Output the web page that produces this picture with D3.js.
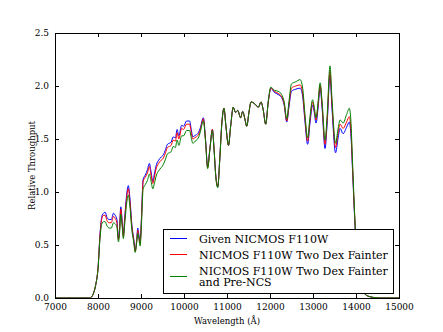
<!DOCTYPE html>
<html>
<head>
<meta charset="utf-8">
<script src="https://cdn.jsdelivr.net/npm/d3@7"></script>
<style>
  body { margin: 0; background: #fff; }
  svg { display: block; }
  text { font-family: "DejaVu Serif", serif; fill: #000; }
</style>
</head>
<body>
<svg id="chart"></svg>
<script>
// wavelength grid (Angstrom)
const wavelength = [7000, 7500, 7800, 7850, 7900, 7950, 8000, 8050, 8090, 8130,
  8165, 8210, 8260, 8310, 8360, 8400, 8440, 8475, 8500, 8530,
  8560, 8590, 8620, 8660, 8705, 8740, 8790, 8830, 8865, 8900,
  8925, 8950, 8980, 9010, 9050, 9100, 9150, 9195, 9230, 9275,
  9310, 9360, 9410, 9470, 9520, 9570, 9615, 9660, 9700, 9750,
  9800, 9840, 9880, 9945, 9990, 10060, 10130, 10165, 10205, 10245,
  10285, 10335, 10375, 10450, 10500, 10550, 10600, 10660, 10700, 10740,
  10785, 10830, 10880, 10930, 10975, 11035, 11085, 11145, 11200, 11250,
  11315, 11365, 11410, 11460, 11510, 11560, 11650, 11730, 11790, 11840,
  11900, 11960, 12020, 12100, 12190, 12270, 12330, 12390, 12440, 12500,
  12600, 12700, 12760, 12810, 12875, 12930, 12990, 13030, 13070, 13120,
  13165, 13210, 13280, 13330, 13395, 13440, 13525, 13580, 13630, 13700,
  13780, 13845, 13880, 13920, 13970, 14010, 14060, 14120, 14200, 14300,
  14450, 14550, 15000];

const givenF110W = [0, 0, 0, 0.01, 0.05, 0.13, 0.28, 0.62, 0.77, 0.80,
  0.81, 0.76, 0.74, 0.74, 0.80, 0.78, 0.74, 0.56, 0.65, 0.86,
  0.74, 0.60, 0.75, 0.95, 1.06, 0.95, 0.68, 0.56, 0.45, 0.55,
  0.66, 0.60, 0.52, 0.75, 1.12, 1.16, 1.21, 1.27, 1.20, 1.10,
  1.17, 1.26, 1.30, 1.33, 1.35, 1.40, 1.45, 1.46, 1.47, 1.52,
  1.51, 1.59, 1.53, 1.63, 1.62, 1.67, 1.67, 1.60, 1.52, 1.53,
  1.54, 1.56, 1.60, 1.70, 1.50, 1.24, 1.40, 1.59, 1.40, 1.15,
  1.05, 1.30, 1.65, 1.79, 1.62, 1.44, 1.62, 1.80, 1.75, 1.77,
  1.70, 1.76, 1.70, 1.62, 1.75, 1.85, 1.83, 1.80, 1.85, 1.78,
  1.64, 1.85, 1.98, 1.94, 1.92, 1.89, 1.82, 1.66, 1.80, 1.95,
  1.97, 1.98, 1.90, 1.68, 1.45, 1.65, 1.82, 1.75, 1.65, 1.80,
  1.99, 1.80, 1.41, 1.65, 2.10, 1.80, 1.37, 1.50, 1.60, 1.55,
  1.61, 1.66, 1.55, 1.20, 0.74, 0.45, 0.22, 0.10, 0.04, 0.015,
  0.003, 0, 0];

const twoDexFainter = [0, 0, 0, 0.01, 0.05, 0.13, 0.28, 0.61, 0.75, 0.78,
  0.78, 0.73, 0.71, 0.71, 0.77, 0.75, 0.71, 0.55, 0.63, 0.84,
  0.72, 0.58, 0.73, 0.92, 1.03, 0.92, 0.66, 0.55, 0.44, 0.54,
  0.64, 0.58, 0.51, 0.73, 1.10, 1.14, 1.18, 1.24, 1.17, 1.08,
  1.14, 1.23, 1.27, 1.30, 1.32, 1.37, 1.42, 1.43, 1.44, 1.49,
  1.48, 1.56, 1.50, 1.60, 1.59, 1.64, 1.64, 1.57, 1.50, 1.51,
  1.52, 1.54, 1.58, 1.69, 1.49, 1.23, 1.40, 1.59, 1.40, 1.15,
  1.05, 1.30, 1.65, 1.79, 1.62, 1.44, 1.62, 1.80, 1.75, 1.77,
  1.70, 1.76, 1.70, 1.62, 1.75, 1.85, 1.83, 1.80, 1.85, 1.78,
  1.64, 1.85, 1.98, 1.95, 1.93, 1.90, 1.83, 1.67, 1.82, 1.98,
  2.00, 2.01, 1.93, 1.71, 1.48, 1.68, 1.85, 1.77, 1.68, 1.83,
  2.01, 1.83, 1.45, 1.69, 2.14, 1.84, 1.42, 1.55, 1.64, 1.60,
  1.66, 1.71, 1.60, 1.23, 0.76, 0.46, 0.22, 0.10, 0.04, 0.015,
  0.003, 0, 0];

const fainterPreNCS = [0, 0, 0, 0.01, 0.05, 0.13, 0.27, 0.58, 0.70, 0.72,
  0.72, 0.68, 0.66, 0.66, 0.71, 0.70, 0.67, 0.53, 0.60, 0.79,
  0.68, 0.56, 0.69, 0.87, 0.97, 0.87, 0.63, 0.53, 0.43, 0.52,
  0.61, 0.56, 0.49, 0.69, 1.03, 1.07, 1.11, 1.17, 1.11, 1.03,
  1.08, 1.16, 1.20, 1.23, 1.26, 1.31, 1.36, 1.37, 1.38, 1.43,
  1.42, 1.49, 1.44, 1.53, 1.53, 1.58, 1.58, 1.52, 1.46, 1.47,
  1.49, 1.51, 1.56, 1.67, 1.48, 1.22, 1.39, 1.58, 1.39, 1.14,
  1.04, 1.29, 1.64, 1.79, 1.62, 1.44, 1.62, 1.80, 1.75, 1.77,
  1.70, 1.76, 1.70, 1.62, 1.75, 1.85, 1.83, 1.80, 1.85, 1.78,
  1.64, 1.86, 1.99, 1.96, 1.95, 1.92, 1.85, 1.69, 1.85, 2.02,
  2.04, 2.06, 1.98, 1.75, 1.51, 1.71, 1.87, 1.80, 1.70, 1.86,
  2.03, 1.86, 1.49, 1.73, 2.19, 1.89, 1.46, 1.59, 1.68, 1.65,
  1.73, 1.79, 1.68, 1.28, 0.78, 0.47, 0.23, 0.10, 0.04, 0.015,
  0.003, 0, 0];

const xTicks = [7000, 8000, 9000, 10000, 11000, 12000, 13000, 14000, 15000];
const yTicks = [0, 0.5, 1.0, 1.5, 2.0, 2.5];

const seriesNames = ['Given NICMOS F110W', 'NICMOS F110W Two Dex Fainter',
  'NICMOS F110W Two Dex Fainter\nand Pre-NCS'];
const seriesColors = ['#0000ff', '#ff0000', '#008000'];

const w = 443, h = 332;
const margin = { top: 33, right: 44, bottom: 34, left: 55 };
const innerW = w - margin.left - margin.right;
const innerH = h - margin.top - margin.bottom;

const svg = d3.select('#chart').attr('width', w).attr('height', h);
const g = svg.append('g').attr('transform', `translate(${margin.left},${margin.top})`);

const x_scale = d3.scaleLinear().domain([7000, 15000]).range([0, innerW]);
const y_scale = d3.scaleLinear().domain([0, 2.5]).range([innerH, 0]);

const series = [givenF110W, twoDexFainter, fainterPreNCS].map((vals, i) => ({
  name: seriesNames[i],
  color: seriesColors[i],
  points: wavelength.map((wl, j) => ({ wl: wl, v: vals[j] }))
}));

const lineGen = d3.line()
  .curve(d3.curveMonotoneX)
  .x(d => x_scale(d.wl))
  .y(d => y_scale(d.v));

g.selectAll('.series').data(series).join('path')
  .attr('class', 'series')
  .attr('d', d => lineGen(d.points))
  .attr('fill', 'none')
  .attr('stroke', d => d.color)
  .attr('stroke-width', 1);

// axes with inward ticks on all four sides (matplotlib classic look)
const fmtY = d3.format('.1f');
const xb = g.append('g').attr('transform', `translate(0,${innerH})`)
  .call(d3.axisBottom(x_scale).tickValues(xTicks).tickSizeInner(-4).tickSizeOuter(0).tickPadding(6).tickFormat(d3.format('d')));
const xt = g.append('g')
  .call(d3.axisTop(x_scale).tickValues(xTicks).tickSizeInner(-4).tickSizeOuter(0).tickFormat(''));
const yl = g.append('g')
  .call(d3.axisLeft(y_scale).tickValues(yTicks).tickSizeInner(-4).tickSizeOuter(0).tickPadding(6).tickFormat(fmtY));
const yr = g.append('g').attr('transform', `translate(${innerW},0)`)
  .call(d3.axisRight(y_scale).tickValues(yTicks).tickSizeInner(-4).tickSizeOuter(0).tickFormat(''));

[xb, xt, yl, yr].forEach(a => {
  a.attr('font-family', null);
  a.select('.domain').remove();
  a.selectAll('line').attr('stroke', '#000');
  a.selectAll('text').attr('font-size', 9).attr('fill', '#000');
});

// frame
g.append('rect')
  .attr('width', innerW).attr('height', innerH)
  .attr('fill', 'none').attr('stroke', '#000').attr('stroke-width', 1)
  .attr('shape-rendering', 'crispEdges');

// axis labels
svg.append('text')
  .attr('x', margin.left + innerW / 2).attr('y', 324)
  .attr('text-anchor', 'middle').attr('font-size', 8.5)
  .text('Wavelength (Å)');

svg.append('text')
  .attr('transform', `translate(35,${margin.top + innerH / 2}) rotate(-90)`)
  .attr('text-anchor', 'middle').attr('font-size', 8.5)
  .text('Relative Throughput');

// legend
const legend = svg.append('g').attr('transform', 'translate(163,229)');
legend.append('rect')
  .attr('width', 230).attr('height', 64)
  .attr('fill', '#fff').attr('stroke', '#000').attr('stroke-width', 1)
  .attr('shape-rendering', 'crispEdges');

const rows = [
  { lineY: 9.5, lines: [14] },
  { lineY: 25.5, lines: [30] },
  { lineY: 47.5, lines: [45.5, 57] }
];

rows.forEach((r, i) => {
  legend.append('line')
    .attr('x1', 7).attr('x2', 24)
    .attr('y1', r.lineY).attr('y2', r.lineY)
    .attr('stroke', seriesColors[i]).attr('stroke-width', 1);
  seriesNames[i].split('\n').forEach((txt, k) => {
    legend.append('text')
      .attr('x', 36).attr('y', r.lines[k])
      .attr('font-size', 11)
      .text(txt);
  });
});
</script>
</body>
</html>
